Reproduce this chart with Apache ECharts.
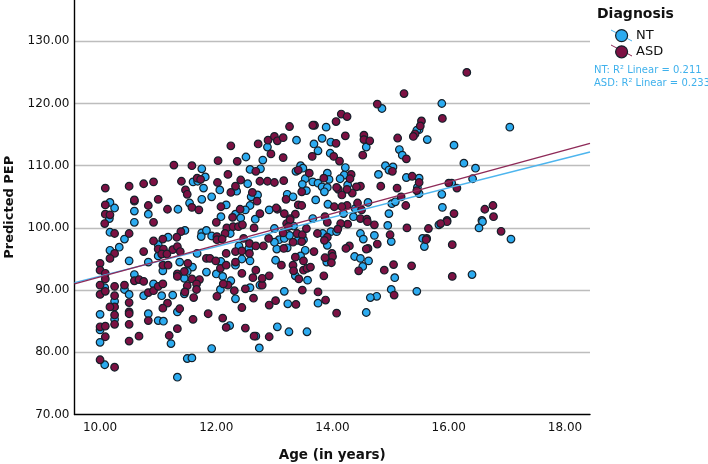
<!DOCTYPE html>
<html><head><meta charset="utf-8">
<style>html,body{margin:0;padding:0;background:#fff}#c{width:708px;height:464px}</style>
<script src="https://cdn.jsdelivr.net/npm/echarts@6/dist/echarts.min.js"></script>
</head><body><div id="c"></div>
<script>
const seriesNames = ['NT','ASD'];
const xTicks = [10,12,14,16,18];
const ntPoints = [
[13.38,114.1],[13.68,113.5],[12.88,113.0],[13.75,112.4],[12.51,111.4],[12.8,110.9],[11.75,109.5],[12.58,109.4],[12.76,109.5],[13.45,110.0],[13.49,109.6],[13.37,109.1],[11.81,108.2],[11.6,107.4],[11.68,107.5],[13.53,107.9],[13.66,107.4],[13.75,107.2],[13.48,107.0],[12.54,107.1],[11.78,106.4],[12.06,106.1],[12.35,105.9],[13.55,106.0],[11.92,105.0],[11.75,104.6],[12.6,105.0],[12.71,105.3],[13.22,105.4],[13.32,105.0],[13.71,104.5],[10.17,104.1],[10.25,103.2],[10.59,102.7],[10.83,102.2],[11.34,103.0],[11.54,104.0],[12.17,103.7],[12.58,103.6],[12.5,102.9],[12.91,102.9],[12.08,101.8],[12.33,102.2],[12.42,101.6],[12.67,101.4],[13.66,101.5],[10.16,101.5],
[10.59,100.9],[10.17,99.3],[10.42,98.2],[10.33,96.9],[10.17,96.4],[10.5,94.7],[10.83,94.5],[11.0,97.3],[11.0,95.5],[11.17,98.5],[11.46,99.6],[11.75,99.2],[11.83,99.6],[11.74,98.6],[11.92,98.7],[11.67,95.9],[11.37,94.5],[11.08,93.1],[11.59,93.7],[11.5,93.0],[11.45,91.9],[11.83,92.9],[12.0,92.6],[12.11,92.2],[12.25,91.5],[12.07,90.1],[12.58,90.4],[12.75,90.8],[12.08,94.6],[12.33,94.0],[12.44,95.0],[12.58,94.7],[12.39,97.1],[12.56,96.7],[13.02,94.8],[13.04,96.6],[13.22,96.8],[13.08,98.1],[13.0,97.7],[13.17,98.3],[13.26,98.8],[13.4,98.0],[13.5,98.1],[13.53,96.4],[13.45,95.5],[13.36,92.3],[13.57,91.6],[13.17,89.8],[13.23,87.8],[13.75,87.9],[12.33,88.6],[10.08,90.4],[10.42,90.1],[10.5,89.3],[10.59,92.5],[10.92,91.0],[10.75,89.1],[11.06,89.1],[11.25,89.2],[11.45,89.4],[10.25,88.2],[10.0,86.1],[10.25,85.3],[10.83,86.2],[11.0,85.1],[11.09,85.0],[11.33,86.5],[12.23,84.3],[10.0,83.6],[10.0,81.6],[10.08,78.0],[11.22,81.4],[11.5,79.0],[11.58,79.1],[11.33,76.0],[11.92,80.6],[12.74,80.7],[12.68,82.6],[13.05,84.1],[13.25,83.3],[13.56,83.3],[13.0,99.9],[13.33,100.3],[12.24,99.1],
[15.88,120],[14.85,119.2],[17.05,116.2],[15.49,115.8],[15.45,115.7],[13.89,116.2],[15.63,114.2],[13.82,114.4],[13.97,113.8],[16.09,113.3],[14.58,113],[15.15,112.6],[15.2,111.7],[13.96,112],[16.26,110.4],[16.46,109.6],[16.41,107.9],[14.91,110],[15.04,109.8],[14.97,109.3],[14.22,109.7],[14.79,108.6],[13.91,108.8],[14.2,108.5],[14.13,107.9],[13.94,107.8],[15.27,108.1],[15.49,108],[16.05,107.2],[13.82,106.6],[13.91,106.5],[13.86,105.8],[14.26,106.9],[15.46,106.5],[15.49,105.5],[15.88,105.4],[14.61,104.1],[15.02,103.9],[15.08,104.2],[15.89,103.3],[13.92,103.8],[14.97,102.3],[14.39,103.1],[14.36,101.8],[14.19,102.3],[16.57,101.2],
[17.07,98.2],[16.58,101],[16.52,100],[15.83,100.5],[15.55,98.3],[15.58,97],[14.95,100.4],[14.72,98.8],[14.48,99.1],[14.53,98.2],[15.01,97.8],[13.83,99.1],[13.97,99.4],[13.91,97.2],[14.07,99.4],[14.38,95.4],[14.48,95.1],[14.62,94.7],[14.52,93.8],[13.9,94.5],[15.07,92],[16.4,92.5],[15.01,90.1],[15.45,89.8],[14.76,89],[14.65,88.8],[14.58,86.4]
];
const asdPoints = [
[13.26,116.3],[13.69,116.5],[13.66,116.5],[12.25,113.2],[12.72,113.5],[12.89,114.1],[13.0,114.7],[13.05,114.0],[13.15,114.5],[12.94,111.9],[13.15,111.3],[13.65,111.5],[11.27,110.1],[11.58,110.0],[12.03,110.8],[12.36,110.7],[13.41,109.3],[13.6,108.8],[12.2,108.6],[10.09,106.4],[10.5,106.7],[10.75,107.1],[10.92,107.4],[11.4,107.5],[11.67,108.0],[11.73,107.8],[12.02,107.3],[12.42,107.7],[12.33,106.7],[12.68,109.1],[12.75,107.5],[12.88,107.5],[13.0,107.3],[13.16,107.6],[11.47,106.1],[11.5,105.4],[12.25,105.7],[12.62,105.7],[11.0,104.6],[10.09,103.7],[10.59,104.3],[10.59,104.5],[10.83,103.6],[11.16,103.0],[11.58,103.3],[11.7,102.9],[12.08,103.4],[12.41,103.0],[12.7,104.3],[13.2,104.6],[13.41,103.7],[13.47,103.6],[13.47,105.8],[13.05,103.0],[13.03,103.2],[13.17,102.3],[12.75,102.3],[13.36,102.2],[10.09,102.2],[10.17,102.1],[12.28,101.7],[13.27,101.5],
[10.08,100.7],[10.25,99.1],[10.5,99.1],[10.92,100.9],[12.0,100.9],[10.92,97.9],[11.08,98.2],[10.75,96.2],[10.25,95.9],[10.17,95.1],[11.0,96.6],[11.09,96.6],[11.25,96.5],[11.33,97.0],[11.38,96.2],[11.06,95.8],[11.15,95.8],[11.39,99.4],[11.32,98.5],[10.0,94.3],[10.0,93.2],[10.09,92.7],[10.09,91.8],[10.0,90.8],[10.0,89.3],[10.09,89.8],[10.25,90.6],[10.25,89.1],[10.42,90.8],[10.59,91.5],[10.67,91.7],[10.75,91.4],[10.83,89.6],[10.92,89.9],[11.0,90.6],[11.08,91.0],[11.08,94.0],[11.17,94.0],[11.51,94.3],[11.45,93.0],[11.33,92.6],[11.33,92.2],[11.5,90.7],[11.58,91.8],[11.71,91.7],[11.66,91.0],[11.66,90.1],[11.46,89.7],[11.61,88.8],[11.16,87.9],[11.08,87.1],[11.37,87.0],[10.25,87.3],[10.17,87.3],[10.5,88.0],[10.5,86.5],[10.5,86.2],[10.25,86.0],[10.25,84.5],[10.5,84.5],[10.0,84.1],[10.09,84.2],[10.09,82.5],[10.67,82.6],[10.5,81.8],[11.19,82.7],[11.33,83.8],[11.6,85.3],[10.83,85.1],[10.0,78.8],[10.25,77.6],[11.86,86.2],[12.11,85.5],[12.17,84.0],[12.5,83.9],[12.65,82.6],[12.91,82.5],[12.91,87.6],[13.02,88.3],[13.37,87.7],[13.75,89.7],[12.44,87.2],[12.64,88.7],[12.01,89.0],[12.31,89.9],[12.5,90.2],[12.2,90.8],[12.12,91.0],[12.79,90.8],[12.79,91.9],[12.63,92.0],[12.91,92.3],[12.44,92.7],[12.68,93.2],[11.83,95.1],[11.89,95.1],[11.99,94.7],[12.07,93.5],[12.17,94.0],[12.17,95.9],[12.33,94.5],[12.33,96.2],[12.44,96.3],[12.57,95.9],[12.57,97.5],[12.68,97.1],[12.81,97.1],[12.9,98.3],[13.12,94.0],[13.32,94.0],[13.33,93.1],[13.36,95.3],[13.5,94.7],[13.5,93.2],[13.56,93.5],[13.62,93.7],[13.42,91.8],[13.48,90.0],[13.68,96.2],[13.16,96.7],[13.32,97.7],[13.39,99.1],[13.48,98.9],[13.55,99.9],[13.47,97.8],[13.74,99.1],[12.65,100.0],[12.18,100.0],[12.29,100.2],[12.38,100.2],[12.45,100.5],[12.15,99.1],[12.01,98.6],[12.01,98.1],[12.1,98.2],[12.47,98.3],[13.21,100.7],[13.15,99.2],[13.27,101.3],[13.24,100.2],
[16.31,125],[15.23,121.6],[14.77,119.9],[15.89,117.6],[15.53,117.2],[15.51,116.4],[15.42,115.1],[15.39,114.7],[15.12,114.45],[14.15,118.3],[14.25,117.9],[14.06,117.1],[14.22,114.8],[14.54,114.9],[14.54,114.2],[14.64,114.0],[14.06,113.6],[14.52,111.7],[15.27,111.1],[14.02,111.5],[14.12,110.75],[15.03,109.1],[14.32,108.6],[14.3,107.9],[13.85,108],[14.83,106.7],[15.11,106.4],[14.48,106.7],[14.41,106.6],[14.34,105.6],[14.25,106.2],[14.1,106.2],[14.07,106.5],[14.16,105.3],[15.37,108.3],[15.49,107.3],[15.45,106],[15.18,105],[16.0,107.2],[16.14,106.4],[15.26,103.6],[16.62,103.0],[16.76,103.6],[16.77,101.8],[16.09,102.3],[14.43,104],[14.5,102.9],[14.25,103.6],[14.16,103.4],[14.03,103.4],[14.48,101.5],[14.59,101.4],[13.87,101.8],[15.97,101.2],
[16.9,99.45],[15.97,101],[15.86,100.7],[15.65,99.9],[15.28,100],[15.62,98.3],[15.61,98.1],[16.06,97.3],[14.99,98.9],[14.77,97.4],[14.61,96.7],[14.58,96.6],[14.29,97.1],[14.23,96.7],[14.72,100.5],[14.6,101.0],[14.26,100.6],[14.14,100.7],[14.09,99.8],[13.91,100.9],[13.91,98.5],[13.86,98],[13.99,95.9],[14.0,95.4],[13.87,95.2],[13.98,94.4],[14.45,93.1],[14.89,93.2],[15.05,94.1],[15.36,93.9],[16.06,92.2],[13.85,92.3],[15.06,89.2],[13.88,88.4],[14.07,86.3]
];
const ntFit = [[9.56,91.2],[18.43,112.2]];
const asdFit = [[9.56,91.0],[18.43,113.6]];
const rsq = ['NT: R\u00B2 Linear = 0.211','ASD: R\u00B2 Linear = 0.233'];

const NT='#2cabf0', ASD='#7c1143', EDGE='#14202a';
const font='"DejaVu Sans"';
const chart = echarts.init(document.getElementById('c'),null,{renderer:'canvas'});
const scatter=(name,data,color)=>({name,type:'scatter',data,symbol:'circle',symbolSize:7.6,clip:false,
  itemStyle:{color,borderColor:EDGE,borderWidth:1.2,opacity:1},z:2,silent:true});
const fit=(name,data,color)=>({name,type:'line',data,showSymbol:false,symbol:'none',lineStyle:{color,width:1.4},z:3,silent:true});
chart.setOption({
  animation:false,
  backgroundColor:'#fff',
  textStyle:{fontFamily:font},
  grid:{left:74.5,right:118,top:0,bottom:49.5,containLabel:false,outerBoundsMode:'none'},
  xAxis:{type:'value',min:9.56,max:18.43,name:'Age (in years)',nameLocation:'middle',nameGap:34,
    nameTextStyle:{fontFamily:font,fontWeight:'bold',fontSize:13.5,color:'#111'},
    axisLine:{show:true,onZero:false,lineStyle:{color:'#000',width:1.4}},axisTick:{show:false},splitLine:{show:false},
    axisLabel:{customValues:xTicks,formatter:v=>v.toFixed(2),fontFamily:font,fontSize:12,color:'#111',margin:7}},
  yAxis:{type:'value',min:70,max:136.64,interval:10,name:'Predicted PEP',nameLocation:'middle',nameGap:58,nameRotate:90,
    nameTextStyle:{fontFamily:font,fontWeight:'bold',fontSize:13,color:'#111'},
    axisLine:{show:true,onZero:false,lineStyle:{color:'#000',width:1.4}},axisTick:{show:false},
    splitLine:{show:true,showMinLine:false,showMaxLine:false,lineStyle:{color:'#bdbdbd',width:1.4}},
    axisLabel:{showMaxLabel:false,formatter:v=>v.toFixed(2),fontFamily:font,fontSize:12,color:'#111',margin:5}},
  legend:{show:true,data:seriesNames,orient:'vertical',left:610,top:24,itemWidth:15,itemHeight:12,itemGap:3,icon:'circle',
    textStyle:{fontFamily:font,fontSize:13,color:'#111',padding:[0,0,0,2]},selectedMode:false,
    itemStyle:{borderColor:EDGE,borderWidth:1.2}},
  series:[
    scatter(seriesNames[0],ntPoints,NT),
    scatter(seriesNames[1],asdPoints,ASD),
    fit('NT fit',ntFit,'#4db5ee'),
    fit('ASD fit',asdFit,'#8e2a58')
  ],
  graphic:[
    {type:'text',left:597,top:7,style:{text:'Diagnosis',font:'bold 14px '+font,fill:'#111'}},
    {type:'line',shape:{x1:611,y1:30,x2:632,y2:41},style:{stroke:'#4db5ee',lineWidth:1},z:-1},
    {type:'line',shape:{x1:611,y1:45,x2:632,y2:56},style:{stroke:'#8e2a58',lineWidth:1},z:-1},
    {type:'text',left:594,top:65,style:{text:rsq[0],font:'10px '+font,fill:'#3fb1ec'}},
    {type:'text',left:594,top:78,style:{text:rsq[1],font:'10px '+font,fill:'#3fb1ec'}}
  ]
});
</script></body></html>
